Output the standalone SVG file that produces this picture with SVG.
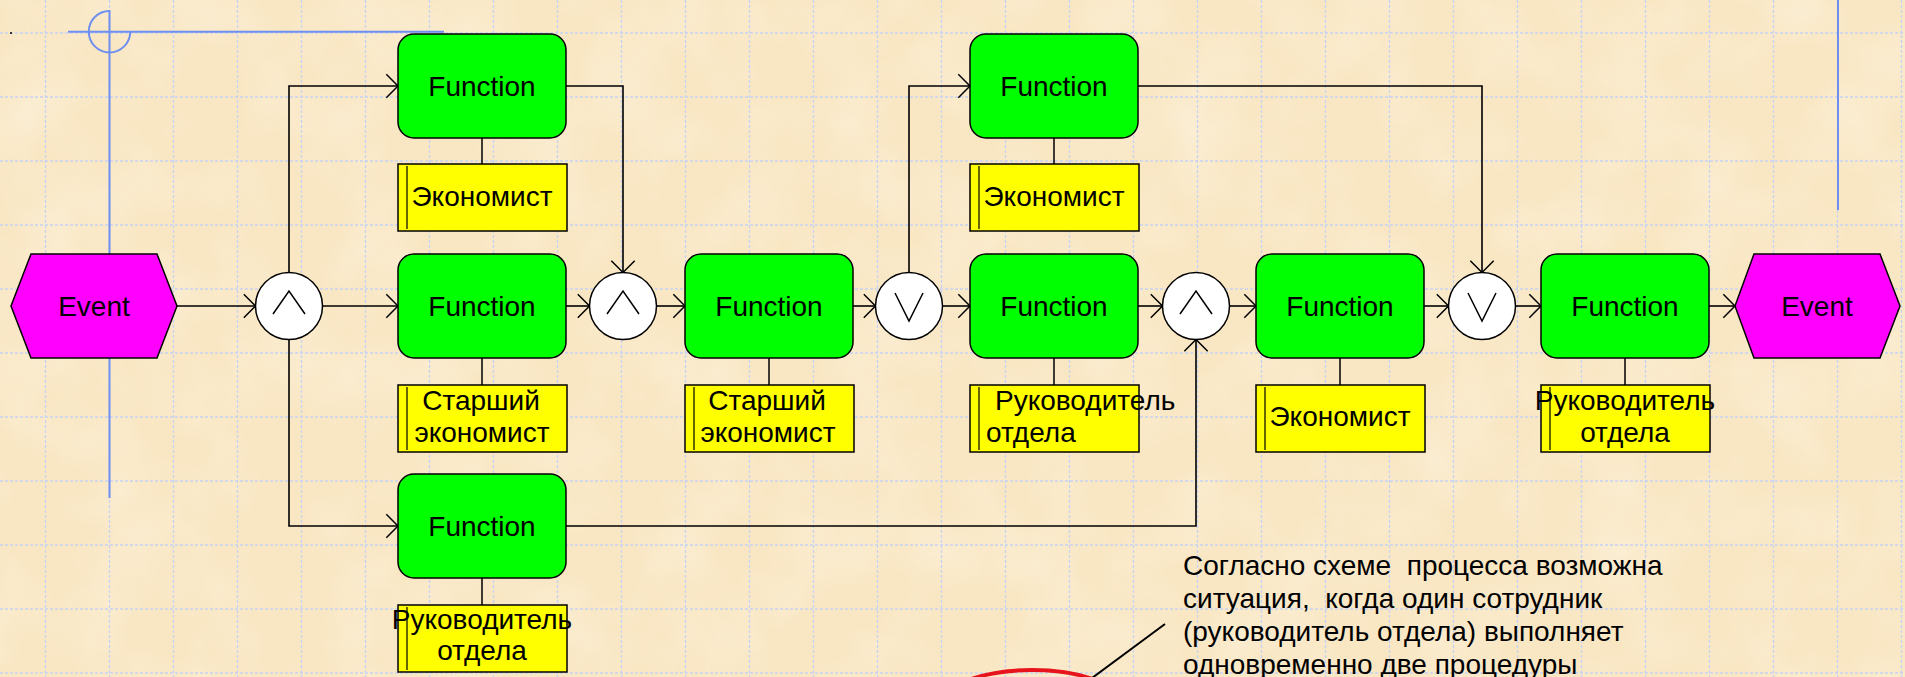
<svg xmlns="http://www.w3.org/2000/svg" width="1905" height="677" viewBox="0 0 1905 677">
<defs>
<style>
.grid{fill:none;stroke:#c6d2f4;stroke-width:1.3;stroke-dasharray:3 2}
.guide{fill:none;stroke:#6f8ff0;stroke-width:2}
.fn{fill:#00ff00;stroke:#000;stroke-width:1.5}
.org{fill:#ffff00;stroke:#000;stroke-width:1.5}
.ev{fill:#ff00ff;stroke:#000;stroke-width:1.5}
.gate{fill:#fff;stroke:#000;stroke-width:1.5}
.sym{fill:none;stroke:#000;stroke-width:1.5}
.conn{fill:none;stroke:#000;stroke-width:1.6;marker-end:url(#arr)}
.link{fill:none;stroke:#000;stroke-width:1.5}
.bar{fill:none;stroke:#000;stroke-width:1.2}
text{font-family:"Liberation Sans",Arial,sans-serif;font-size:28px;fill:#000}
.c{text-anchor:middle}
.note{font-size:28px}
</style>
<marker id="arr" markerUnits="userSpaceOnUse" viewBox="-1 -1 14 26" refX="12" refY="12" markerWidth="14" markerHeight="26" orient="auto"><path d="M0.3,0.3 L12,12 L0.3,23.7" fill="none" stroke="#000" stroke-width="1.5"/></marker>
<filter id="tex" x="0" y="0" width="100%" height="100%"><feTurbulence type="fractalNoise" baseFrequency="0.012" numOctaves="3" seed="3"/><feColorMatrix type="matrix" values="0 0 0 0 1  0 0 0 0 0.97  0 0 0 0 0.9  0 0 0 1.3 -0.55"/></filter>
</defs>

<g id="background">
<rect width="1905" height="677" fill="#f9e7c4"/>
<rect width="1905" height="677" filter="url(#tex)" opacity="0.5"/>
<path class="grid" d="M45.5,0V677M109.5,0V677M173.5,0V677M237.5,0V677M301.5,0V677M365.5,0V677M429.5,0V677M493.5,0V677M557.5,0V677M621.5,0V677M685.5,0V677M749.5,0V677M813.5,0V677M877.5,0V677M941.5,0V677M1005.5,0V677M1069.5,0V677M1133.5,0V677M1197.5,0V677M1261.5,0V677M1325.5,0V677M1389.5,0V677M1453.5,0V677M1517.5,0V677M1581.5,0V677M1645.5,0V677M1709.5,0V677M1773.5,0V677M1837.5,0V677M1901.5,0V677"/>
<path class="grid" d="M0,33H1905M0,97H1905M0,161H1905M0,225H1905M0,289H1905M0,353H1905M0,417H1905M0,481H1905M0,545H1905M0,609H1905M0,673H1905"/>
<rect x="10" y="32" width="2" height="2" fill="#333"/>
</g>

<g id="guides">
<path class="guide" d="M109.5,10V498M68,31.7H444"/>
<path class="guide" d="M109.5,11A20.7,20.7 0 1 0 130.2,31.7"/>
<path class="guide" d="M1838,0V210"/>
</g>

<g id="connectors">
<path class="conn" d="M177,306H255.5"/>
<path class="conn" d="M289,272.5V86H398"/>
<path class="conn" d="M322.5,306H398"/>
<path class="conn" d="M289,339.5V526H398"/>
<path class="conn" d="M566,86H623V272.5"/>
<path class="conn" d="M566,306H589.5"/>
<path class="conn" d="M656.5,306H685"/>
<path class="conn" d="M853,306H875.5"/>
<path class="conn" d="M909,272.5V86H970"/>
<path class="conn" d="M942.5,306H970"/>
<path class="conn" d="M1138,306H1162.5"/>
<path class="conn" d="M566,526H1196V339.5"/>
<path class="conn" d="M1229.5,306H1256"/>
<path class="conn" d="M1138,86H1482V272.5"/>
<path class="conn" d="M1424,306H1448.5"/>
<path class="conn" d="M1515.5,306H1541"/>
<path class="conn" d="M1709,306H1735"/>
<path class="link" d="M482,138V164M482,358V385M482,578V605M769,358V385M1054,138V164M1054,358V385M1340,358V385M1625,358V385"/>
</g>

<g id="event-start"><polygon class="ev" points="11,306 31,254 157,254 177,306 157,358 31,358"/><text class="c" x="94" y="316">Event</text></g>
<g id="event-end"><polygon class="ev" points="1735,306 1754,254 1880,254 1900,306 1880,358 1754,358"/><text class="c" x="1817" y="316">Event</text></g>

<g id="gate1"><circle class="gate" cx="289" cy="306" r="33.5"/><path class="sym" d="M273,314L289,291L305,314"/></g>
<g id="gate2"><circle class="gate" cx="623" cy="306" r="33.5"/><path class="sym" d="M607,314L623,291L639,314"/></g>
<g id="gate3"><circle class="gate" cx="909" cy="306" r="33.5"/><path class="sym" d="M895,293L909,321L923,293"/></g>
<g id="gate4"><circle class="gate" cx="1196" cy="306" r="33.5"/><path class="sym" d="M1180,314L1196,291L1212,314"/></g>
<g id="gate5"><circle class="gate" cx="1482" cy="306" r="33.5"/><path class="sym" d="M1468,293L1482,321L1496,293"/></g>

<g id="func1"><rect class="fn" x="398" y="34" width="168" height="104" rx="16"/><text class="c" x="482" y="96">Function</text></g>
<g id="func2"><rect class="fn" x="398" y="254" width="168" height="104" rx="16"/><text class="c" x="482" y="316">Function</text></g>
<g id="func3"><rect class="fn" x="398" y="474" width="168" height="104" rx="16"/><text class="c" x="482" y="536">Function</text></g>
<g id="func4"><rect class="fn" x="685" y="254" width="168" height="104" rx="16"/><text class="c" x="769" y="316">Function</text></g>
<g id="func5"><rect class="fn" x="970" y="34" width="168" height="104" rx="16"/><text class="c" x="1054" y="96">Function</text></g>
<g id="func6"><rect class="fn" x="970" y="254" width="168" height="104" rx="16"/><text class="c" x="1054" y="316">Function</text></g>
<g id="func7"><rect class="fn" x="1256" y="254" width="168" height="104" rx="16"/><text class="c" x="1340" y="316">Function</text></g>
<g id="func8"><rect class="fn" x="1541" y="254" width="168" height="104" rx="16"/><text class="c" x="1625" y="316">Function</text></g>

<g id="org1"><rect class="org" x="398" y="164" width="169" height="67"/><path class="bar" d="M407,166V229"/><text class="c" x="482" y="206">Экономист</text></g>
<g id="org2"><rect class="org" x="398" y="385" width="169" height="67"/><path class="bar" d="M407,387V450"/><text class="c" x="481" y="410">Старший</text><text class="c" x="482" y="442">экономист</text></g>
<g id="org3"><rect class="org" x="398" y="605" width="169" height="67"/><path class="bar" d="M407,607V670"/><text class="c" x="482" y="629">Руководитель</text><text class="c" x="482" y="660">отдела</text></g>
<g id="org4"><rect class="org" x="685" y="385" width="169" height="67"/><path class="bar" d="M694,387V450"/><text class="c" x="767" y="410">Старший</text><text class="c" x="768" y="442">экономист</text></g>
<g id="org5"><rect class="org" x="970" y="164" width="169" height="67"/><path class="bar" d="M979,166V229"/><text class="c" x="1054" y="206">Экономист</text></g>
<g id="org6"><rect class="org" x="970" y="385" width="169" height="67"/><path class="bar" d="M979,387V450"/><text x="995" y="410">Руководитель</text><text x="986" y="442">отдела</text></g>
<g id="org7"><rect class="org" x="1256" y="385" width="169" height="67"/><path class="bar" d="M1265,387V450"/><text class="c" x="1340" y="426">Экономист</text></g>
<g id="org8"><rect class="org" x="1541" y="385" width="169" height="67"/><path class="bar" d="M1550,387V450"/><text class="c" x="1625" y="410">Руководитель</text><text class="c" x="1625" y="442">отдела</text></g>

<g id="annotation">
<ellipse cx="1032" cy="710" rx="96" ry="40" fill="none" stroke="#e8141b" stroke-width="4"/>
<path d="M1165,624L1088,681" fill="none" stroke="#000" stroke-width="2"/>
<text class="note" x="1183" y="575" xml:space="preserve">Согласно схеме  процесса возможна</text>
<text class="note" x="1183" y="608" xml:space="preserve">ситуация,  когда один сотрудник</text>
<text class="note" x="1183" y="641" xml:space="preserve">(руководитель отдела) выполняет</text>
<text class="note" x="1183" y="674" xml:space="preserve">одновременно две процедуры</text>
</g>
</svg>
